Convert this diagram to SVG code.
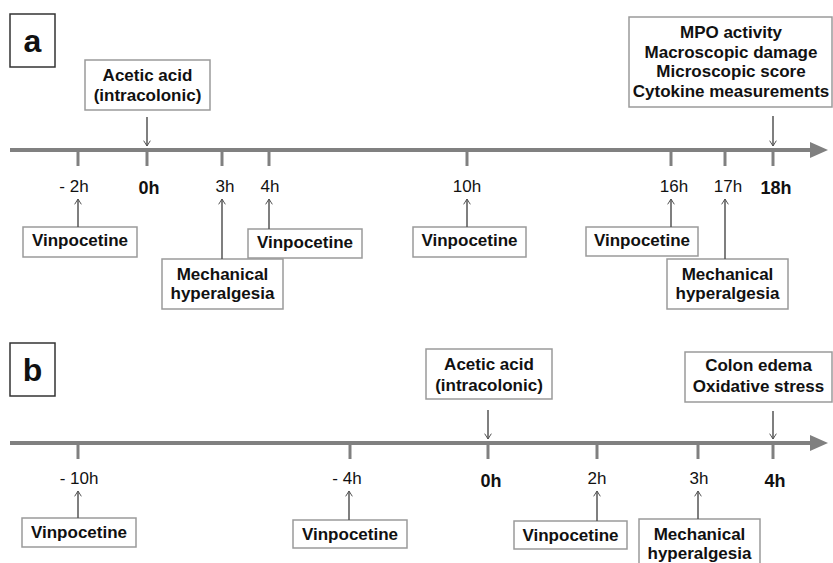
<svg xmlns="http://www.w3.org/2000/svg" width="833" height="563" viewBox="0 0 833 563">
<defs>
<style>
text{font-family:"Liberation Sans",Arial,sans-serif;fill:#111;}
.b{font-weight:bold;font-size:17px;text-anchor:middle;}
.t{font-size:17px;text-anchor:middle;}
.tb{font-size:18px;font-weight:bold;text-anchor:middle;}
.lab{font-size:32px;font-weight:bold;text-anchor:middle;}
.box{fill:#fff;stroke:#9a9a9a;stroke-width:1.5;}
.lbox{fill:#fff;stroke:#333;stroke-width:1.5;}
.axis{stroke:#808080;stroke-width:4;fill:none;}
.tick{stroke:#808080;stroke-width:3;}
.con{stroke:#555;stroke-width:1.5;fill:none;marker-end:url(#ah);}
</style>
<marker id="ah" viewBox="0 0 12 12" refX="10" refY="6" markerWidth="8" markerHeight="8" markerUnits="userSpaceOnUse" orient="auto">
<path d="M2,1 L10,6 L2,11" fill="none" stroke="#555" stroke-width="1.5"/>
</marker>
</defs>
<rect width="833" height="563" fill="#fff"/>

<g id="axis-a">
<line class="axis" x1="10" y1="150" x2="812" y2="150"/>
<polygon points="810,142 828,150 810,158" fill="#808080"/>
<line class="tick" x1="78" y1="150" x2="78" y2="166"/>
<line class="tick" x1="147" y1="150" x2="147" y2="166"/>
<line class="tick" x1="222" y1="150" x2="222" y2="166"/>
<line class="tick" x1="269" y1="150" x2="269" y2="166"/>
<line class="tick" x1="467" y1="150" x2="467" y2="166"/>
<line class="tick" x1="671" y1="150" x2="671" y2="166"/>
<line class="tick" x1="725" y1="150" x2="725" y2="166"/>
<line class="tick" x1="773" y1="150" x2="773" y2="166"/>
<text class="t" x="74" y="192">- 2h</text>
<text class="tb" x="149" y="194">0h</text>
<text class="t" x="225" y="192">3h</text>
<text class="t" x="270" y="192">4h</text>
<text class="t" x="467" y="192">10h</text>
<text class="t" x="674" y="192">16h</text>
<text class="t" x="728" y="192">17h</text>
<text class="tb" x="776" y="194">18h</text>
</g>

<g id="label-a"><rect class="lbox" x="10" y="14" width="45" height="53"/><text class="lab" x="32.5" y="52">a</text></g>

<g id="a-acetic"><rect class="box" x="85" y="60" width="125" height="50"/>
<text class="b" x="147.5" y="81">Acetic acid</text><text class="b" x="147.5" y="101">(intracolonic)</text></g>

<g id="a-outcomes"><rect class="box" x="629" y="17" width="203" height="90"/>
<text class="b" x="731" y="38">MPO activity</text>
<text class="b" x="731" y="57.5">Macroscopic damage</text>
<text class="b" x="731" y="77">Microscopic score</text>
<text class="b" x="731" y="96.5">Cytokine measurements</text></g>

<g id="a-vin-m2"><rect class="box" x="23" y="227" width="114" height="30"/><text class="b" x="80" y="246">Vinpocetine</text></g>
<g id="a-mech-3"><rect class="box" x="162" y="259" width="121" height="50"/><text class="b" x="222.5" y="280">Mechanical</text><text class="b" x="222.5" y="299">hyperalgesia</text></g>
<g id="a-vin-4"><rect class="box" x="248" y="229" width="114" height="29"/><text class="b" x="305" y="248">Vinpocetine</text></g>
<g id="a-vin-10"><rect class="box" x="413" y="227" width="113" height="30"/><text class="b" x="469.5" y="246">Vinpocetine</text></g>
<g id="a-vin-16"><rect class="box" x="586" y="227" width="112" height="29"/><text class="b" x="642" y="246">Vinpocetine</text></g>
<g id="a-mech-17"><rect class="box" x="667" y="259" width="121" height="50"/><text class="b" x="727.5" y="280">Mechanical</text><text class="b" x="727.5" y="299">hyperalgesia</text></g>

<g id="axis-b">
<line class="axis" x1="10" y1="443" x2="812" y2="443"/>
<polygon points="810,435 828,443 810,451" fill="#808080"/>
<line class="tick" x1="78" y1="443" x2="78" y2="459"/>
<line class="tick" x1="350" y1="443" x2="350" y2="459"/>
<line class="tick" x1="488" y1="443" x2="488" y2="459"/>
<line class="tick" x1="597" y1="443" x2="597" y2="459"/>
<line class="tick" x1="698" y1="443" x2="698" y2="459"/>
<line class="tick" x1="773" y1="443" x2="773" y2="459"/>
<text class="t" x="79" y="484">- 10h</text>
<text class="t" x="347" y="484">- 4h</text>
<text class="tb" x="491" y="487">0h</text>
<text class="t" x="597" y="484">2h</text>
<text class="t" x="699" y="484">3h</text>
<text class="tb" x="775" y="487">4h</text>
</g>

<g id="label-b"><rect class="lbox" x="10" y="343" width="45" height="53"/><text class="lab" x="32.5" y="381">b</text></g>

<g id="b-acetic"><rect class="box" x="426" y="349" width="126" height="50"/>
<text class="b" x="489" y="370">Acetic acid</text><text class="b" x="489" y="391">(intracolonic)</text></g>
<g id="b-outcomes"><rect class="box" x="685" y="352" width="147" height="50"/>
<text class="b" x="758.5" y="371">Colon edema</text><text class="b" x="758.5" y="392">Oxidative stress</text></g>

<g id="b-vin-m10"><rect class="box" x="22" y="518" width="114" height="29"/><text class="b" x="79" y="538">Vinpocetine</text></g>
<g id="b-vin-m4"><rect class="box" x="293" y="520" width="114" height="28"/><text class="b" x="350" y="540">Vinpocetine</text></g>
<g id="b-vin-2"><rect class="box" x="514" y="521" width="113" height="28"/><text class="b" x="570.5" y="541">Vinpocetine</text></g>
<g id="b-mech-3"><rect class="box" x="639" y="519" width="121" height="50"/><text class="b" x="699.5" y="540">Mechanical</text><text class="b" x="699.5" y="559">hyperalgesia</text></g>

<g id="connectors">
<line class="con" x1="147" y1="117" x2="147" y2="146"/>
<line class="con" x1="773" y1="116" x2="773" y2="146"/>
<line class="con" x1="78" y1="227" x2="78" y2="199"/>
<line class="con" x1="222" y1="259" x2="222" y2="199"/>
<line class="con" x1="269" y1="229" x2="269" y2="199"/>
<line class="con" x1="467" y1="227" x2="467" y2="199"/>
<line class="con" x1="671" y1="227" x2="671" y2="199"/>
<line class="con" x1="725" y1="259" x2="725" y2="199"/>
<line class="con" x1="488" y1="410" x2="488" y2="439"/>
<line class="con" x1="773" y1="411" x2="773" y2="439"/>
<line class="con" x1="78" y1="518" x2="78" y2="491"/>
<line class="con" x1="349" y1="520" x2="349" y2="491"/>
<line class="con" x1="597" y1="521" x2="597" y2="491"/>
<line class="con" x1="698" y1="519" x2="698" y2="491"/>
</g>
</svg>
